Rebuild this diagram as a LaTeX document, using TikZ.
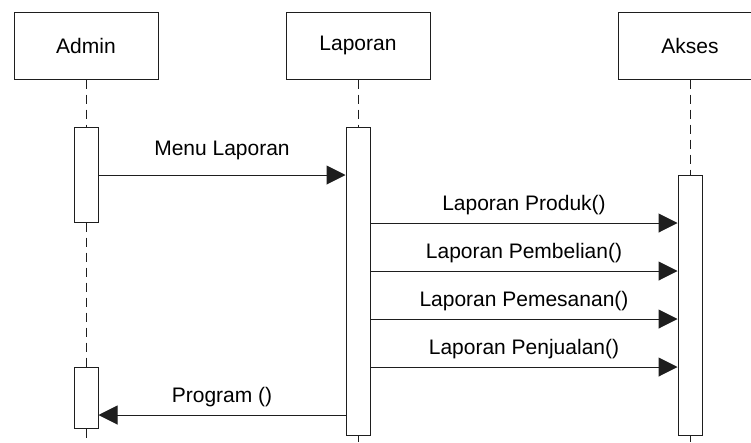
\documentclass[tikz,border=0pt]{standalone}
\usepackage{fontspec}
\setmainfont{Liberation Sans}
\usetikzlibrary{arrows.meta, positioning, calc}
\definecolor{linegray}{RGB}{30,30,30}

\begin{document}
\begin{tikzpicture}[x=1pt, y=-1pt,
    font=\fontsize{21}{25}\selectfont,
    head/.style={draw=linegray, line width=1pt, minimum width=144pt, minimum height=67pt, inner sep=0pt},
    actbox/.style={draw=linegray, fill=white, line width=1pt, minimum width=24pt, inner sep=0pt},
    life/.style={draw=linegray, line width=1pt, dash pattern=on 9pt off 6pt},
    msg/.style={draw=linegray, line width=1pt, -{Triangle[length=19pt, width=19pt]}}]
  \useasboundingbox (0,0) rectangle (751,442);
  % lifeline heads
  \node[head] (admin) at (86,45.5) {Admin};
  \node[head] (laporan) at (358,45.5) {Laporan};
  \node[head] (akses) at (690,45.5) {Akses};
  % activations
  \node[actbox, minimum height=95pt] (actAdm) at (86,174.5) {};
  \node[actbox, minimum height=61pt] (actAdmB) at (86,397.5) {};
  \node[actbox, minimum height=308pt] (actLap) at (358,281) {};
  \node[actbox, minimum height=260pt] (actAks) at (690,305) {};
  \coordinate (endAdm) at (86,442);
  \coordinate (endLap) at (358,442);
  \coordinate (endAks) at (690,442);
  % lifelines
  \draw[life] (admin.south) -- (actAdm.north);
  \draw[life] (actAdm.south) -- (actAdmB.north);
  \draw[life] (actAdmB.south) -- (endAdm);
  \draw[life] (laporan.south) -- (actLap.north);
  \draw[life] (actLap.south) -- (endLap);
  \draw[life] (akses.south) -- (actAks.north);
  \draw[life] (actAks.south) -- (endAks);
  % messages
  \draw[msg] (actAdm.east |- 0,175) -- (actLap.west |- 0,175) node[midway, above=11pt] {Menu Laporan};
  \foreach \y/\txt in {223/Laporan Produk(), 271/Laporan Pembelian(), 319/Laporan Pemesanan(), 367/Laporan Penjualan()} {
    \draw[msg] (actLap.east |- 0,\y) -- (actAks.west |- 0,\y) node[midway, above=4pt] {\txt};
  }
  \draw[msg] (actLap.west |- 0,415) -- (actAdmB.east |- 0,415) node[midway, above=4pt] {Program ()};
\end{tikzpicture}
\end{document}
